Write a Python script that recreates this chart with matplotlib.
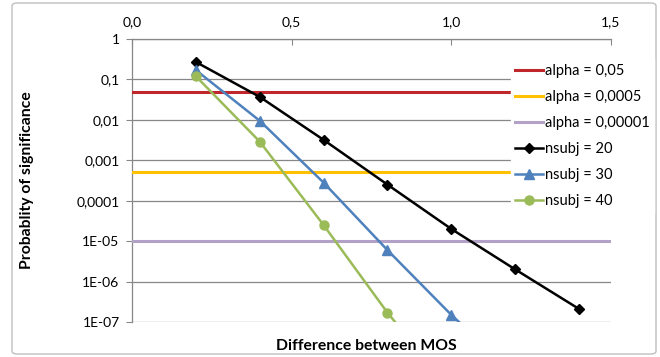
import matplotlib
matplotlib.use("Agg")
import matplotlib.pyplot as plt
from matplotlib.patches import FancyBboxPatch

plt.rcParams["font.family"] = ["Lato", "DejaVu Sans"]

# alpha thresholds (horizontal reference lines)
alpha_values = [0.05, 0.0005, 0.00001]
alpha_labels = ["alpha = 0,05", "alpha = 0,0005", "alpha = 0,00001"]
alpha_colors = ["#C0272D", "#FFC000", "#B3A2C7"]

# probability of significance vs difference between MOS
x_diff = [0.2, 0.4, 0.6, 0.8, 1.0, 1.2, 1.4]
p_nsubj20 = [0.27, 0.037, 0.0032, 0.00025, 0.00002, 0.000002, 0.00000021]
p_nsubj30 = [0.17, 0.0095, 0.00028, 0.000006, 0.00000015, 0.000000005]
p_nsubj40 = [0.12, 0.0029, 0.000025, 0.00000017, 0.000000002]

series_labels = ["nsubj = 20", "nsubj = 30", "nsubj = 40"]
series_colors = ["#000000", "#4F81BD", "#9BBB59"]
series_markers = ["D", "^", "o"]

x_range = [0.0, 1.5]
x_ticks = [0.0, 0.5, 1.0, 1.5]
x_tick_labels = ["0,0", "0,5", "1,0", "1,5"]
y_ticks = [1e-7, 1e-6, 1e-5, 1e-4, 1e-3, 1e-2, 1e-1, 1]
y_tick_labels = ["1E-07", "1E-06", "1E-05", "0,0001", "0,001", "0,01", "0,1", "1"]

fig = plt.figure(figsize=(6.6, 3.57), dpi=100)

# outer chart border
border = FancyBboxPatch(
    (12 / 660, 3 / 357), 644 / 660, 351 / 357,
    boxstyle="round,pad=0,rounding_size=0.008",
    transform=fig.transFigure,
    facecolor="none", edgecolor="#BFBFBF", linewidth=1.0, zorder=-1
)
fig.patches.append(border)

ax = fig.add_axes([132 / 660, 1 - 322 / 357, 479 / 660, 283 / 357])
ax.set_facecolor("none")

for value, label, color in zip(alpha_values, alpha_labels, alpha_colors):
    ax.plot(x_range, [value, value], color=color, linewidth=2.2, label=label, zorder=3)

p_series = [p_nsubj20, p_nsubj30, p_nsubj40]
marker_sizes = [5, 6.5, 6.5]
for p, label, color, marker, ms in zip(p_series, series_labels, series_colors,
                                       series_markers, marker_sizes):
    ax.plot(x_diff[:len(p)], p, color=color, marker=marker, markersize=ms,
            linewidth=1.8, label=label, zorder=4, clip_on=True)

ax.set_yscale("log")
ax.set_ylim(1e-7, 1)
ax.set_xlim(x_range)

ax.set_yticks(y_ticks)
ax.set_yticklabels(y_tick_labels)
ax.minorticks_off()
ax.yaxis.grid(True, color="#878787", linewidth=0.9, zorder=1)

ax.xaxis.tick_top()
ax.set_xticks(x_ticks)
ax.set_xticklabels(x_tick_labels)
ax.tick_params(axis="x", direction="in", length=4, color="#878787",
               labelsize=10, pad=8)
ax.tick_params(axis="y", direction="out", length=4, color="#878787",
               labelsize=10, pad=5)

for name in ["left", "top"]:
    ax.spines[name].set_color("#878787")
    ax.spines[name].set_linewidth(0.9)
ax.spines["right"].set_visible(False)
ax.spines["bottom"].set_visible(False)

ax.set_xlabel("Difference between MOS", fontsize=11.3, fontweight="bold")
ax.xaxis.set_label_position("bottom")
ax.xaxis.set_label_coords(0.49, -0.06)
ax.set_ylabel("Probablity of significance", fontsize=11.3, fontweight="bold")
ax.yaxis.set_label_coords(-0.205, 0.5)

leg = ax.legend(
    loc="upper left",
    bbox_to_anchor=((511 - 132) / 479, (322 - 60) / 283),
    frameon=True,
    fancybox=False,
    facecolor="white",
    edgecolor="white",
    framealpha=1,
    fontsize=10.5,
    handlelength=1.9,
    handletextpad=0.1,
    labelspacing=0.82,
    borderaxespad=0,
    borderpad=0.3,
)
leg.set_zorder(10)

fig.savefig("out.png", dpi=100)
